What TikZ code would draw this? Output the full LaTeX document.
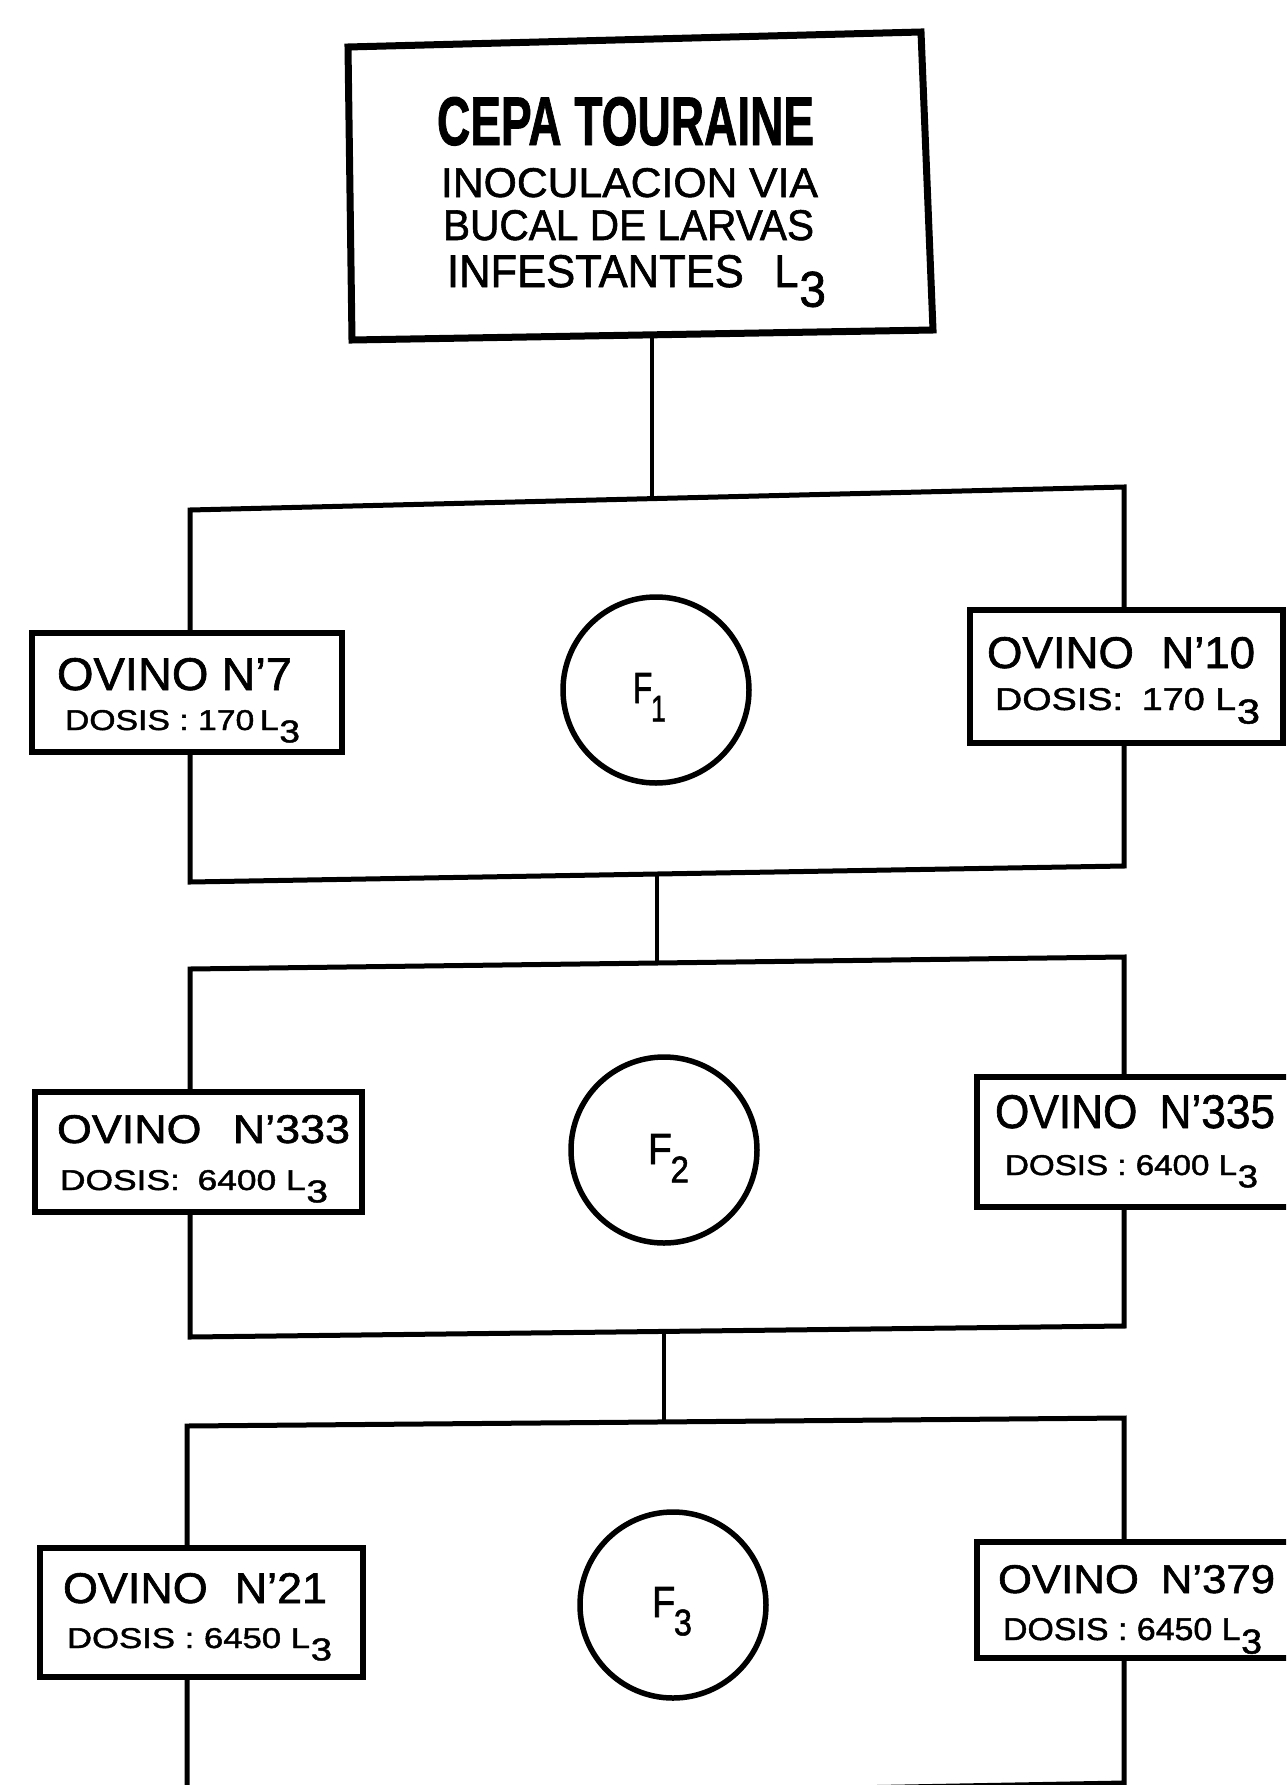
\documentclass[tikz,border=0pt]{standalone}
\usepackage{fontspec}
\setmainfont{Liberation Sans}
\newfontfamily\thick{Liberation Sans}[FakeBold=1.4,Ligatures=TeX]
\usepackage{graphicx}
\usetikzlibrary{calc}
\newcommand{\lsub}[1]{\kern0.2pt\raisebox{-4.3pt}{\fontsize{11pt}{11pt}\selectfont #1}}
\newcommand{\fsub}[1]{\kern-0.4pt\raisebox{-4.2pt}{\fontsize{8.5pt}{8.5pt}\selectfont #1}}
\newcommand{\mytext}[6]{\node[txt] (#1) at (#2,#3) {\resizebox{#4pt}{#5pt}{\fontsize{10pt}{12pt}\thick #6}};}
\begin{document}
\begin{tikzpicture}[x=1pt,y=-1pt,
  txt/.style={anchor=base west,inner sep=0pt,outer sep=0pt},
  frame/.style={line width=5pt,line join=miter},
  link/.style={line width=4.5pt},
  obox/.style={draw,rectangle,line width=6pt,fill=white,inner sep=0pt},
  fcirc/.style={draw,circle,line width=5.5pt,inner sep=0pt,minimum size=186pt},
  tbox/.style={line width=7pt,line join=miter}]
\useasboundingbox (0,0) rectangle (1286,1785);
\fill[white] (0,0) rectangle (1286,1785);
\clip (0,0) rectangle (1286,1785);

% top box
\coordinate (tTL) at (348,47);
\coordinate (tTR) at (921,32);
\coordinate (tBR) at (933,330);
\coordinate (tBL) at (352,340);
\draw[tbox] (tTL) -- (tTR) -- (tBR) -- (tBL) -- cycle;
\mytext{t1}{437}{145}{377}{48}{\bfseries CEPA TOURAINE}
\mytext{t2}{441}{197}{377}{29}{INOCULACION VIA}
\mytext{t3}{443}{240}{371}{30}{BUCAL DE LARVAS}
\mytext{t4}{447}{287}{379}{32}{INFESTANTES\hspace{0.7em}L\lsub{3}}

% frame corners
\coordinate (f1tl) at (190,510);  \coordinate (f1tr) at (1124,487);
\coordinate (f1bl) at (190,882);  \coordinate (f1br) at (1124,866);
\coordinate (f2tl) at (190,969);  \coordinate (f2tr) at (1124,957);
\coordinate (f2bl) at (190,1337); \coordinate (f2br) at (1124,1326);
\coordinate (f3tl) at (187,1426); \coordinate (f3tr) at (1124,1418);
\coordinate (f3bl) at (187,1800); \coordinate (f3br) at (1124,1783);

% connectors between levels
\coordinate (k0a) at (652,335);  \coordinate (k0b) at (652,499);
\coordinate (k1a) at (657,874);  \coordinate (k1b) at (657,963);
\coordinate (k2a) at (664,1331); \coordinate (k2b) at (664,1422);
\draw[link] (k0a) -- (k0b);
\draw[link] (k1a) -- (k1b);
\draw[link] (k2a) -- (k2b);

% boxes
\path (187,692.5) coordinate (p7) (1126.5,676.5) coordinate (p10)
      (198.5,1152) coordinate (p333) (1136,1142) coordinate (p335)
      (201.5,1612.5) coordinate (p21) (1136,1600) coordinate (p379);
\node[obox,minimum width=310pt,minimum height=119pt] (b7) at (p7) {};
\node[obox,minimum width=313pt,minimum height=133pt] (b10) at (p10) {};
\node[obox,minimum width=327pt,minimum height=120pt] (b333) at (p333) {};
\node[obox,minimum width=318pt,minimum height=130pt] (b335) at (p335) {};
\node[obox,minimum width=323pt,minimum height=129pt] (b21) at (p21) {};
\node[obox,minimum width=318pt,minimum height=116pt] (b379) at (p379) {};

% frames
\draw[frame] (b7.north -| f1tl) -- (f1tl) -- (f1tr) -- (b10.north -| f1tr);
\draw[frame] (b7.south -| f1bl) -- (f1bl) -- (f1br) -- (b10.south -| f1br);
\draw[frame] (b333.north -| f2tl) -- (f2tl) -- (f2tr) -- (b335.north -| f2tr);
\draw[frame] (b333.south -| f2bl) -- (f2bl) -- (f2br) -- (b335.south -| f2br);
\draw[frame] (b21.north -| f3tl) -- (f3tl) -- (f3tr) -- (b379.north -| f3tr);
\draw[frame] (b21.south -| f3bl) -- (f3bl) -- (f3br) -- (b379.south -| f3br);

% box texts
\mytext{o7a}{57}{690}{235}{32}{OVINO N'7}
\mytext{o7b}{65}{730}{235}{20}{DOSIS : 170\,L\lsub{3}}
\mytext{o10a}{987}{668}{268}{31}{OVINO\hspace{0.6em}N'10}
\mytext{o10b}{995}{710}{265}{22}{DOSIS:\hspace{0.5em}170 L\lsub{3}}
\mytext{o333a}{57}{1143}{293}{28}{OVINO\hspace{0.7em}N'333}
\mytext{o333b}{60}{1190}{268}{20}{DOSIS:\hspace{0.5em}6400 L\lsub{3}}
\mytext{o335a}{995}{1128}{280}{33}{OVINO\hspace{0.5em}N'335}
\mytext{o335b}{1005}{1175}{253}{20}{DOSIS : 6400 L\lsub{3}}
\mytext{o21a}{63}{1603}{264}{30}{OVINO\hspace{0.6em}N'21}
\mytext{o21b}{67}{1648}{265}{20}{DOSIS : 6450 L\lsub{3}}
\mytext{o379a}{998}{1593}{277}{28}{OVINO\hspace{0.5em}N'379}
\mytext{o379b}{1003}{1640}{259}{22}{DOSIS : 6450 L\lsub{3}}

% circles
\node[fcirc] (c1) at (656,690) {};
\node[fcirc] (c2) at (664,1150) {};
\node[fcirc] (c3) at (673,1605) {};
\mytext{l1}{633}{703}{33}{30}{F\fsub{1}}
\mytext{l2}{648}{1164}{41}{30}{F\fsub{2}}
\mytext{l3}{652}{1617}{40}{30}{F\fsub{3}}
\end{tikzpicture}
\end{document}
